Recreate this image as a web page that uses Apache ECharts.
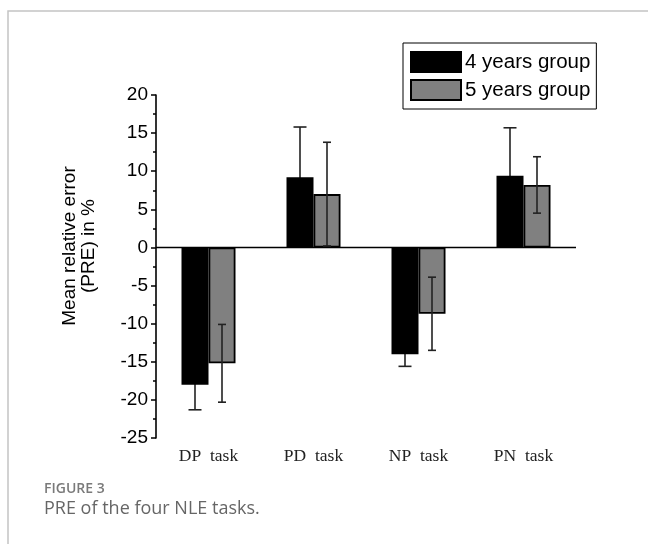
<!DOCTYPE html>
<html>
<head>
<meta charset="utf-8">
<script src="https://cdn.jsdelivr.net/npm/echarts@6/dist/echarts.min.js"></script>
<style>
  html, body { margin: 0; padding: 0; background: #fff; }
  #chart { width: 648px; height: 544px; }
</style>
</head>
<body>
<div id="chart"></div>
<script>
// tasks and group values (PRE, %)
let tasks = ['DP task', 'PD task', 'NP task', 'PN task'];
let meanFour = [-18.0, 9.2, -14.0, 9.4];
let errFour = [3.3, 6.6, 1.6, 6.3];
let meanFive = [-15.2, 7.0, -8.7, 8.2];
let errFive = [5.1, 6.8, 4.8, 3.7];
let yTicks = [-25, -20, -15, -10, -5, 0, 5, 10, 15, 20];

let chart = echarts.init(document.getElementById('chart'));

// error bar drawn at a pixel offset from the category centre
function errRender(means, errs, dx, cap){
  return function(params, api){
    let i = api.value(0);
    let lo = api.coord([i, means[i] - errs[i]]);
    let hi = api.coord([i, means[i] + errs[i]]);
    let x = lo[0] + dx;
    let st = {stroke: '#222', lineWidth: 1.6};
    return {
      type: 'group',
      children: [
        {type: 'line', shape: {x1: x, y1: lo[1], x2: x, y2: hi[1]}, style: st},
        {type: 'line', shape: {x1: x - cap/2, y1: lo[1], x2: x + cap/2, y2: lo[1]}, style: st},
        {type: 'line', shape: {x1: x - cap/2, y1: hi[1], x2: x + cap/2, y2: hi[1]}, style: st}
      ]
    };
  };
}

chart.setOption({
  animation: false,
  grid: {left: 156, right: 72, top: 95, bottom: 106},
  legend: {
    data: ['4 years group', '5 years group'],
    orient: 'vertical',
    left: 403, top: 43,
    padding: [8, 6, 8, 7],
    itemWidth: 50, itemHeight: 20, itemGap: 6,
    borderColor: '#000', borderWidth: 1,
    icon: 'rect',
    textStyle: {fontFamily: 'Liberation Sans', fontSize: 20.5, color: '#000', padding: [0, 0, 0, -1]}
  },
  xAxis: {
    type: 'category',
    data: tasks,
    axisLine: {show: false, onZero: false},
    axisTick: {show: false},
    axisLabel: {
      margin: 9,
      fontFamily: 'Liberation Serif',
      fontSize: 17.5,
      color: '#222',
      formatter: (v) => v.replace(' ', '  ')
    }
  },
  yAxis: {
    type: 'value',
    min: -25, max: 20, interval: 5,
    splitLine: {show: false},
    axisLine: {show: true, lineStyle: {color: '#000', width: 1.6}},
    axisTick: {show: true, length: 5, lineStyle: {color: '#000', width: 1.5}},
    minorTick: {show: true, splitNumber: 2, length: 3, lineStyle: {color: '#000', width: 1.5}},
    axisLabel: {
      margin: 8,
      fontFamily: 'Liberation Sans',
      fontSize: 19,
      color: '#000',
      formatter: (v) => yTicks.indexOf(v) >= 0 ? String(v) : ''
    }
  },
  graphic: [
    {type: 'rect', silent: true, shape: {x: 8, y: 11, width: 800, height: 700},
     style: {fill: 'none', stroke: '#c4c4c4', lineWidth: 1.5}},
    {type: 'text', x: 79, y: 246, rotation: Math.PI / 2,
     style: {text: 'Mean relative error\n(PRE) in %', fontFamily: 'Liberation Sans', fontSize: 19,
             fill: '#000', align: 'center', verticalAlign: 'middle', lineHeight: 19}},
    {type: 'text', left: 44, top: 482,
     style: {text: 'FIGURE 3', fontFamily: 'Open Sans', fontSize: 14, fontWeight: 600, fill: '#7a7a7a'}},
    {type: 'text', left: 44, top: 500,
     style: {text: 'PRE of the four NLE tasks.', fontFamily: 'Open Sans', fontSize: 18, fill: '#666'}}
  ],
  series: [
    {
      name: '4 years group', type: 'bar', data: meanFour, z: 2,
      barWidth: 27, barGap: '0%',
      itemStyle: {color: '#000', borderColor: '#000', borderWidth: 1.5},
      markLine: {
        silent: true, symbol: 'none', label: {show: false},
        lineStyle: {color: '#000', width: 1.3, type: 'solid'},
        data: [{yAxis: 0}]
      }
    },
    {
      name: '5 years group', type: 'bar', data: meanFive, z: 2,
      barWidth: 27,
      itemStyle: {color: '#808080', borderColor: '#000', borderWidth: 1.8}
    },
    {
      type: 'custom', z: 1,
      data: tasks.map((t, i) => [i]),
      renderItem: errRender(meanFour, errFour, -13.5, 13)
    },
    {
      type: 'custom', z: 5,
      data: tasks.map((t, i) => [i]),
      renderItem: errRender(meanFive, errFive, 13.5, 8)
    }
  ]
});
</script>
</body>
</html>
